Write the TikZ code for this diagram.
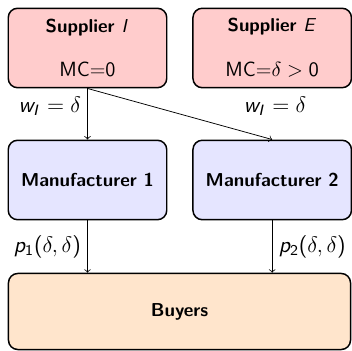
\documentclass[tikz,border=0pt]{standalone}
\usepackage{amsmath}
\usetikzlibrary{positioning}
\renewcommand{\familydefault}{\sfdefault}
% sans serif math, beamer like
\SetSymbolFont{operators}{normal}{OT1}{cmss}{m}{n}
\DeclareSymbolFont{sfit}{OT1}{cmss}{m}{sl}
\DeclareMathSymbol{w}{\mathalpha}{sfit}{`w}
\DeclareMathSymbol{p}{\mathalpha}{sfit}{`p}
\DeclareMathSymbol{I}{\mathalpha}{sfit}{`I}
\DeclareMathSymbol{E}{\mathalpha}{sfit}{`E}

\begin{document}
\begin{tikzpicture}[x=0.535pt, y=-0.535pt, font=\sffamily,
  box/.style={draw, thick, rounded corners=5pt, minimum width=84.8pt,
    minimum height=42.5pt, align=center},
  supbox/.style={box, fill=red!20},
  manbox/.style={box, fill=blue!10},
  buybox/.style={box, fill=orange!20, minimum width=183pt, minimum height=40.7pt},
  lbl/.style={font=\fontsize{11.5}{14}\selectfont}]
  \useasboundingbox (0,0) rectangle (352,351);

  \node[supbox] (supI) at (87.5,48) {\textbf{Supplier $I$}\\[12pt] \fontsize{11}{13}\selectfont MC=0};
  \node[supbox] (supE) at (272.2,48) {\textbf{Supplier $E$}\\[12pt] \fontsize{11}{13}\selectfont MC=$\delta>0$};
  \node[manbox] (man1) at (87.5,180) {\textbf{Manufacturer 1}};
  \node[manbox] (man2) at (272.2,180) {\textbf{Manufacturer 2}};
  \node[buybox] (buy) at (179.5,311.5) {\textbf{Buyers}};

  \draw[->] (supI) -- node[lbl, left, pos=0.35] {$w_I=\delta$} (man1);
  \draw[->] (supI.south) -- (man2.north);
  \node[lbl] (wE) at (275,106) {$w_I=\delta$};
  \draw[->] (man1) -- node[lbl, left] {$p_1(\delta,\delta)$} (buy.north -| man1);
  \draw[->] (man2) -- node[lbl, right] {$p_2(\delta,\delta)$} (buy.north -| man2);
\end{tikzpicture}
\end{document}
